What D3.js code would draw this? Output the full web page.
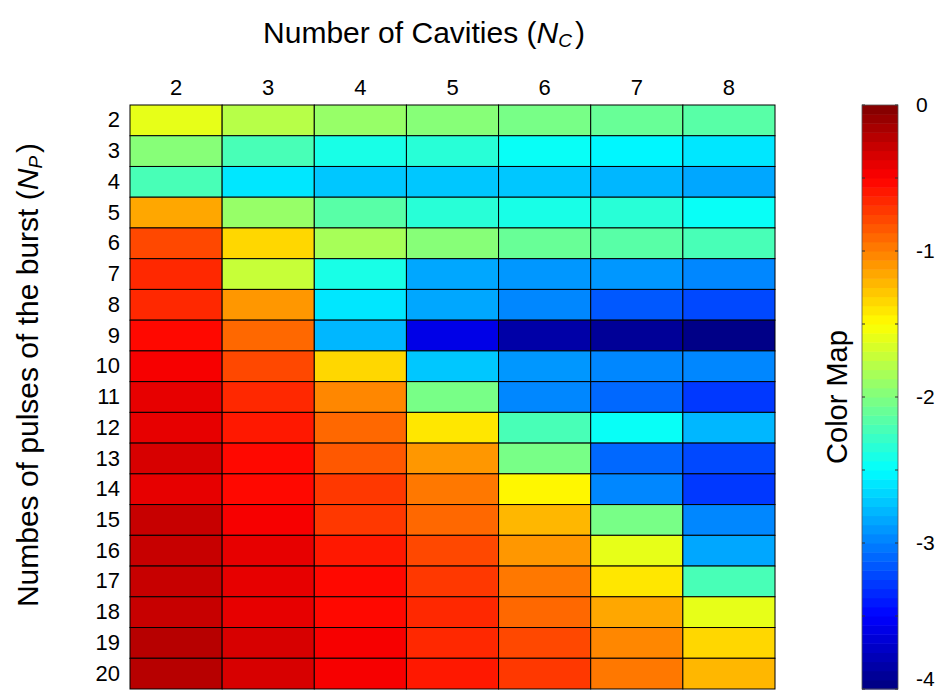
<!DOCTYPE html>
<html>
<head>
<meta charset="utf-8">
<script src="https://cdn.jsdelivr.net/npm/d3@7"></script>
<style>
  body { margin: 0; background: #fff; }
  text { font-family: "Liberation Sans", Arial, sans-serif; fill: #000; }
</style>
</head>
<body>
<div id="chart"></div>
<script>
var width = 940
var height = 691

// number of cavities (columns) and number of pulses (rows)
var cavities = [2, 3, 4, 5, 6, 7, 8]
var pulses = [2, 3, 4, 5, 6, 7, 8, 9, 10, 11, 12, 13, 14, 15, 16, 17, 18, 19, 20]

var values = [
  [-1.62, -1.80, -1.90, -1.95, -2.05, -2.10, -2.15],
  [-2.00, -2.25, -2.38, -2.35, -2.45, -2.52, -2.58],
  [-2.25, -2.57, -2.70, -2.75, -2.75, -2.77, -2.82],
  [-1.18, -1.92, -2.15, -2.32, -2.38, -2.35, -2.50],
  [-0.80, -1.32, -1.85, -1.95, -2.08, -2.18, -2.22],
  [-0.68, -1.72, -2.42, -2.85, -2.88, -2.88, -2.95],
  [-0.65, -1.12, -2.57, -2.85, -3.00, -3.15, -3.22],
  [-0.55, -0.92, -2.80, -3.62, -3.85, -3.88, -3.95],
  [-0.50, -0.80, -1.32, -2.70, -2.88, -3.00, -2.98],
  [-0.42, -0.68, -1.05, -2.05, -2.95, -3.12, -3.30],
  [-0.42, -0.62, -0.88, -1.43, -2.20, -2.50, -2.78],
  [-0.35, -0.55, -0.82, -1.12, -2.05, -3.12, -3.20],
  [-0.38, -0.55, -0.72, -1.00, -1.50, -2.95, -3.28],
  [-0.30, -0.50, -0.70, -0.88, -1.23, -2.05, -2.95],
  [-0.30, -0.40, -0.62, -0.80, -1.12, -1.62, -2.85],
  [-0.30, -0.40, -0.55, -0.75, -1.00, -1.43, -2.25],
  [-0.30, -0.40, -0.52, -0.68, -0.88, -1.18, -1.62],
  [-0.23, -0.35, -0.50, -0.65, -0.80, -1.05, -1.35],
  [-0.23, -0.35, -0.48, -0.62, -0.75, -0.95, -1.22]
]

var cbTicks = [0, -1, -2, -3, -4]
var cbMinor = [0, -0.5, -1, -1.5, -2, -2.5, -3, -3.5, -4]

// matlab style jet with 64 levels
function jet(t) {
  var n = 64
  var k = Math.min(n - 1, Math.max(0, Math.floor(t * n)))
  var v = (k + 0.5) / n
  function c(x) { return Math.max(0, Math.min(1, x)) }
  var r = c(1.5 - Math.abs(4 * v - 3))
  var g = c(1.5 - Math.abs(4 * v - 2))
  var b = c(1.5 - Math.abs(4 * v - 1))
  return d3.rgb(r * 255, g * 255, b * 255).toString()
}

var color = d3.scaleSequential(jet).domain([-4, 0])

var svg = d3.select("#chart")
            .append('svg')
            .attr("width", width)
            .attr("height", height);

var x = d3.scaleBand().domain(cavities).range([130, 775])
var y = d3.scaleBand().domain(pulses).range([105, 689])

var cells = []
pulses.forEach(function(p, i) {
  cavities.forEach(function(c, j) {
    cells.push({p: p, c: c, v: values[i][j]})
  })
})

svg.append("g")
  .selectAll("rect")
  .data(cells)
  .enter().append("rect")
    .attr("x", function(d) { return x(d.c) })
    .attr("y", function(d) { return y(d.p) })
    .attr("width", x.bandwidth())
    .attr("height", y.bandwidth())
    .attr("fill", function(d) { return color(d.v) })
    .attr("stroke", "#000")
    .attr("stroke-width", 1)

// column labels on top
svg.append("g")
  .attr("transform", "translate(0,105)")
  .attr("font-size", 22)
  .call(d3.axisTop(x).tickSize(0).tickPadding(10))
  .call(function(g) { g.select(".domain").remove() })
  .selectAll("text")
    .style("font-size", "22px")
    .style("font-family", "Liberation Sans, Arial, sans-serif")

// row labels on left
svg.append("g")
  .attr("transform", "translate(130,0)")
  .call(d3.axisLeft(y).tickSize(0).tickPadding(10))
  .call(function(g) { g.select(".domain").remove() })
  .selectAll("text")
    .style("font-size", "22px")
    .style("font-family", "Liberation Sans, Arial, sans-serif")

// title
var title = svg.append("text")
  .attr("x", 424)
  .attr("y", 43)
  .attr("text-anchor", "middle")
  .attr("font-size", 30)
title.append("tspan").text("Number of Cavities (")
title.append("tspan").attr("font-style", "italic").text("N")
title.append("tspan").attr("font-style", "italic").attr("font-size", 19).attr("dy", 4).text("C")
title.append("tspan").attr("dy", -4).attr("dx", 3).text(")")

// y label
var ylab = svg.append("text")
  .attr("transform", "translate(38,375) rotate(-90)")
  .attr("text-anchor", "middle")
  .attr("font-size", 30)
ylab.append("tspan").text("Numbes of pulses of the burst (")
ylab.append("tspan").attr("font-style", "italic").text("N")
ylab.append("tspan").attr("font-style", "italic").attr("font-size", 19).attr("dy", 4).text("P")
ylab.append("tspan").attr("dy", -4).attr("dx", 3).text(")")

// colour bar
var cbX = 862
var cbW = 36
var cy = d3.scaleLinear().domain([0, -4]).range([105, 689])

var steps = d3.range(64).map(function(i) { return -4 + i * 4 / 64 })
svg.append("g")
  .selectAll("rect")
  .data(steps)
  .enter().append("rect")
    .attr("x", cbX)
    .attr("y", function(d) { return cy(d + 4 / 64) })
    .attr("width", cbW)
    .attr("height", function(d) { return cy(d) - cy(d + 4 / 64) + 0.5 })
    .attr("fill", function(d) { return color(d + 2 / 64) })

svg.append("rect")
  .attr("x", cbX)
  .attr("y", 105)
  .attr("width", cbW)
  .attr("height", 584)
  .attr("fill", "none")
  .attr("stroke", "#555")
  .attr("stroke-width", 0.8)

var minor = svg.append("g")
minor.selectAll("line.l")
  .data(cbMinor)
  .enter().append("line")
    .attr("x1", cbX).attr("x2", cbX + 3)
    .attr("y1", function(d) { return cy(d) }).attr("y2", function(d) { return cy(d) })
    .attr("stroke", "#333")
minor.selectAll("line.r")
  .data(cbMinor)
  .enter().append("line")
    .attr("x1", cbX + cbW - 3).attr("x2", cbX + cbW)
    .attr("y1", function(d) { return cy(d) }).attr("y2", function(d) { return cy(d) })
    .attr("stroke", "#333")

svg.append("g")
  .selectAll("text")
  .data(cbTicks)
  .enter().append("text")
    .attr("x", 916)
    .attr("y", function(d) { return Math.min(cy(d), 679) })
    .attr("dy", "0.35em")
    .attr("font-size", 21)
    .text(function(d) { return d === 0 ? "0" : "-" + Math.abs(d) })

svg.append("text")
  .attr("transform", "translate(847,397) rotate(-90)")
  .attr("text-anchor", "middle")
  .attr("font-size", 29)
  .text("Color Map")
</script>
</body>
</html>
